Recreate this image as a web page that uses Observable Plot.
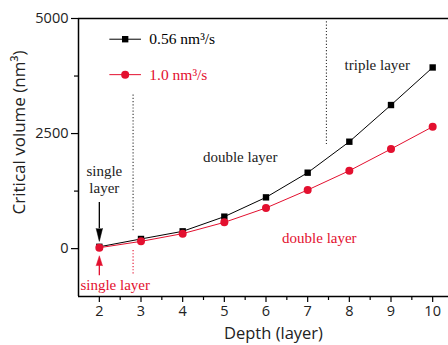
<!DOCTYPE html>
<html>
<head>
<meta charset="utf-8">
<script src="https://cdn.jsdelivr.net/npm/d3@7"></script>
<script src="https://cdn.jsdelivr.net/npm/@observablehq/plot@0.6"></script>
<style>
  html, body { margin: 0; padding: 0; background: #fff; }
  #chart svg { display: block; }
</style>
</head>
<body>
<div id="chart"></div>
<script>
// Depth of the layer (x) and critical volume (nm³) for the two rates
const depth = [2, 3, 4, 5, 6, 7, 8, 9, 10];
const volSlow = [40, 210, 376, 695, 1114, 1650, 2323, 3120, 3936];   // 0.56 nm³/s
const volFast = [20, 158, 326, 571, 884, 1274, 1693, 2165, 2649];    // 1.0 nm³/s
const seriesNames = ["0.56 nm³/s", "1.0 nm³/s"];
const xTicks = [2, 3, 4, 5, 6, 7, 8, 9, 10];
const xMinor = [2.5, 3.5, 4.5, 5.5, 6.5, 7.5, 8.5, 9.5];
const yTicks = [0, 2500, 5000];
const yMinor = [1250, 3750];

// Regime boundaries (dotted separators)
const boundaries = [
  {x: 2.81, y1: 390, y2: 3340, color: "black"},
  {x: 7.45, y1: 2260, y2: 4950, color: "black"},
  {x: 2.81, y1: -40, y2: -590, color: "red"}
];

const RED = "#e3102f";
const slow = depth.map((d, i) => ({depth: d, v: volSlow[i]}));
const fast = depth.map((d, i) => ({depth: d, v: volFast[i]}));

const serif = "'Liberation Serif', 'Times New Roman', serif";
const sans = "'Open Sans', 'Noto Sans', sans-serif";

const chart = Plot.plot({
  width: 448,
  height: 345,
  marginLeft: 78,
  marginRight: 0,
  marginTop: 18,
  marginBottom: 49,
  style: {fontFamily: sans, fontSize: "14.5px", color: "#222", background: "#fff"},
  x: {domain: [1.5, 10.38]},
  y: {domain: [-1040, 5000]},
  marks: [
    // axes and frame lines
    Plot.axisX({ticks: xTicks, tickSize: 6, tickPadding: 3, tickFormat: d => String(d), label: null, stroke: "black", strokeWidth: 1.2}),
    Plot.axisX({ticks: xMinor, tickSize: 4, label: null, text: null, stroke: "black", strokeWidth: 1.2}),
    Plot.axisY({ticks: yTicks, tickSize: 7, tickPadding: 3, tickFormat: d => String(d), label: null, stroke: "black", strokeWidth: 1.2}),
    Plot.axisY({ticks: yMinor, tickSize: 4, label: null, text: null, stroke: "black", strokeWidth: 1.2}),
    Plot.ruleX([1.5], {stroke: "black", strokeWidth: 1.5}),
    Plot.ruleY([-1040], {stroke: "black", strokeWidth: 1.5}),
    Plot.ruleY([5000], {stroke: "black", strokeWidth: 1.5}),

    // dotted regime separators
    Plot.ruleX(boundaries, {x: "x", y1: "y1", y2: "y2", stroke: d => d.color === "red" ? RED : "#333", strokeWidth: 1.1, strokeDasharray: "1.2,2"}),

    // series
    Plot.line(slow, {x: "depth", y: "v", stroke: "black", strokeWidth: 1}),
    Plot.dot(slow, {x: "depth", y: "v", symbol: "square", fill: "black", r: 3.6}),
    Plot.line(fast, {x: "depth", y: "v", stroke: RED, strokeWidth: 1}),
    Plot.dot(fast, {x: "depth", y: "v", symbol: "circle", fill: RED, r: 4}),

    // legend
    Plot.line([{x: 2.25, y: 4550}, {x: 2.99, y: 4550}], {x: "x", y: "y", stroke: "black", strokeWidth: 1}),
    Plot.dot([{x: 2.62, y: 4550}], {x: "x", y: "y", symbol: "square", fill: "black", r: 3.6}),
    Plot.text([seriesNames[0]], {x: 3.2, y: 4550, text: d => d, textAnchor: "start", fontFamily: serif, fontSize: 15.5, fill: "black"}),
    Plot.line([{x: 2.25, y: 3780}, {x: 2.99, y: 3780}], {x: "x", y: "y", stroke: RED, strokeWidth: 1}),
    Plot.dot([{x: 2.62, y: 3780}], {x: "x", y: "y", symbol: "circle", fill: RED, r: 4}),
    Plot.text([seriesNames[1]], {x: 3.2, y: 3780, text: d => d, textAnchor: "start", fontFamily: serif, fontSize: 15.5, fill: RED}),

    // regime annotations with pointer arrows
    Plot.text(["single", "layer"], {x: 2.12, y: (d, i) => i === 0 ? 1693 : 1324, text: d => d, fontFamily: serif, fontSize: 15, fill: "#222"}),
    Plot.ruleX([2], {y1: 1000, y2: 434, stroke: "black", strokeWidth: 1.3}),
    Plot.vector([2], {x: d => d, y: 440, length: 13, rotate: 180, shape: "spike", r: 3.2, anchor: "start", fill: "black", stroke: "black", strokeWidth: 0.5}),
    Plot.ruleX([2], {y1: -590, y2: -360, stroke: RED, strokeWidth: 1.3}),
    Plot.vector([2], {x: d => d, y: -372, length: 10, rotate: 0, shape: "spike", r: 3.2, anchor: "start", fill: RED, stroke: RED, strokeWidth: 0.5}),
    Plot.text(["single layer"], {x: 2.38, y: -803, text: d => d, fontFamily: serif, fontSize: 15, fill: RED}),
    Plot.text(["double layer"], {x: 5.38, y: 1980, text: d => d, fontFamily: serif, fontSize: 15, fill: "#222"}),
    Plot.text(["triple layer"], {x: 8.67, y: 3995, text: d => d, fontFamily: serif, fontSize: 15, fill: "#222"}),
    Plot.text(["double layer"], {x: 7.28, y: 217, text: d => d, fontFamily: serif, fontSize: 15, fill: RED}),

    // axis titles
    Plot.text(["Depth (layer)"], {frameAnchor: "bottom", lineAnchor: "middle", textAnchor: "middle", dy: 37, dx: 10, text: d => d, fontFamily: sans, fontSize: 16.5, fill: "#222"}),
    Plot.text(["Critical volume (nm³)"], {frameAnchor: "left", textAnchor: "middle", lineAnchor: "middle", dx: -59, dy: -25, rotate: -90, text: d => d, fontFamily: sans, fontSize: 17, fill: "#222"})
  ]
});

document.getElementById("chart").appendChild(chart);
</script>
</body>
</html>
